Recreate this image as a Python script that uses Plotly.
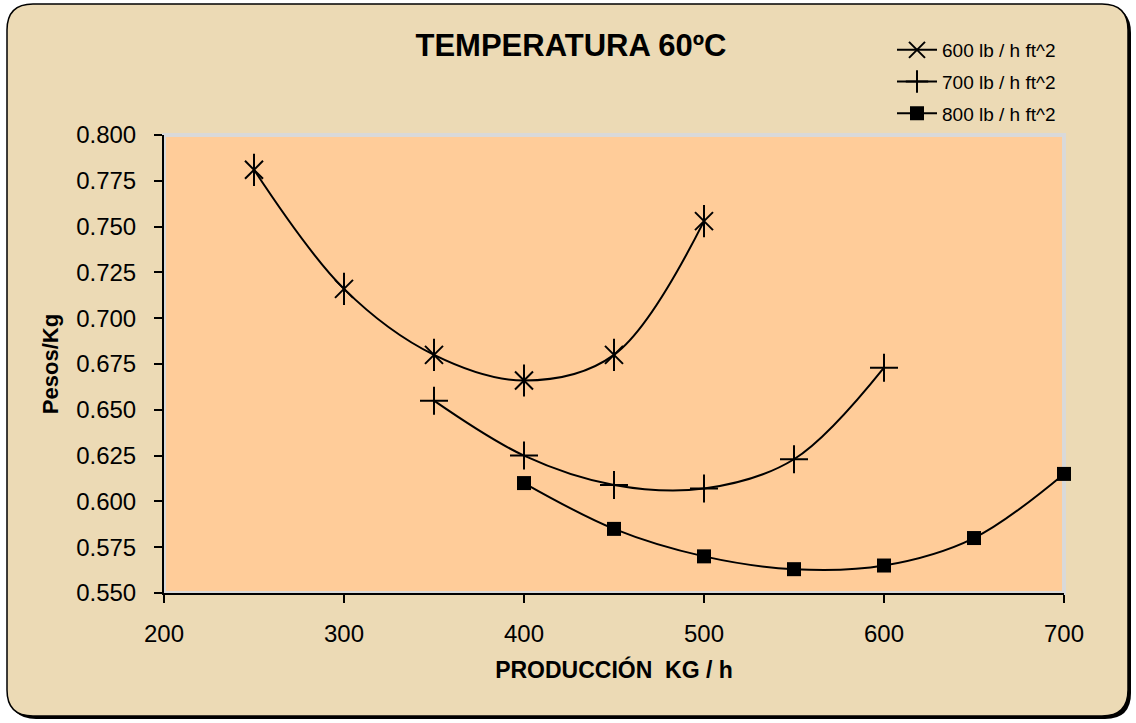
import plotly.graph_objects as go

# ---- data ----
x_600 = [250, 300, 350, 400, 450, 500]
y_600 = [0.781, 0.716, 0.680, 0.666, 0.680, 0.753]
x_700 = [350, 400, 450, 500, 550, 600]
y_700 = [0.655, 0.625, 0.609, 0.607, 0.623, 0.673]
x_800 = [400, 450, 500, 550, 600, 650, 700]
y_800 = [0.610, 0.585, 0.570, 0.563, 0.565, 0.580, 0.615]
series_names = ["600 lb / h ft^2", "700 lb / h ft^2", "800 lb / h ft^2"]
x_ticks = [200, 300, 400, 500, 600, 700]
y_ticks = [0.550, 0.575, 0.600, 0.625, 0.650, 0.675, 0.700, 0.725, 0.750, 0.775, 0.800]

W, H = 1136, 723
ML, MR, MT, MB = 164, 72, 135, 130
PW, PH = W - ML - MR, H - MT - MB

def fx(p):
    return (p - ML) / PW

def fy(p):
    return (H - MB - p) / PH

def rounded_path(L, T, R, B, r):
    return (f"M {fx(L+r)},{fy(T)} L {fx(R-r)},{fy(T)} Q {fx(R)},{fy(T)} {fx(R)},{fy(T+r)} "
            f"L {fx(R)},{fy(B-r)} Q {fx(R)},{fy(B)} {fx(R-r)},{fy(B)} "
            f"L {fx(L+r)},{fy(B)} Q {fx(L)},{fy(B)} {fx(L)},{fy(B-r)} "
            f"L {fx(L)},{fy(T+r)} Q {fx(L)},{fy(T)} {fx(L+r)},{fy(T)} Z")

FONT = "Liberation Sans, Arial, sans-serif"
fig = go.Figure()

line_style = dict(color="black", width=2, shape="spline", smoothing=1.0)

# 600 series: six-armed star (x + vertical bar)
fig.add_trace(go.Scatter(x=x_600, y=y_600, mode="lines+markers", name=series_names[0],
                         legendgroup="g600", line=line_style, cliponaxis=False,
                         marker=dict(symbol="x-thin-open", size=18, color="black",
                                     line=dict(color="black", width=2))))
fig.add_trace(go.Scatter(x=x_600, y=y_600, mode="markers", name=series_names[0],
                         legendgroup="g600", showlegend=False, cliponaxis=False,
                         hoverinfo="skip",
                         marker=dict(symbol="line-ns-open", size=23, color="black",
                                     line=dict(color="black", width=2))))
fig.add_trace(go.Scatter(x=x_700, y=y_700, mode="lines+markers", name=series_names[1],
                         legendgroup="g700", line=line_style, cliponaxis=False,
                         marker=dict(symbol="cross-thin-open", size=20, color="black",
                                     line=dict(color="black", width=2))))
fig.add_trace(go.Scatter(x=x_800, y=y_800, mode="lines+markers", name=series_names[2],
                         legendgroup="g800", line=line_style, cliponaxis=False,
                         marker=dict(symbol="square", size=14, color="black")))

shapes = [
    # frame shadow
    dict(type="path", xref="paper", yref="paper", layer="below",
         path=rounded_path(10, 7, 1131, 719, 26), fillcolor="black", line=dict(width=0)),
    # frame
    dict(type="path", xref="paper", yref="paper", layer="below",
         path=rounded_path(7, 4, 1128, 716, 26), fillcolor="#ECDAB5",
         line=dict(color="black", width=1.5)),
    # plot area
    dict(type="rect", xref="paper", yref="paper", layer="below",
         x0=0, x1=1, y0=0, y1=1, fillcolor="#FFCC99",
         line=dict(color="#D9D9D9", width=4)),
]

fig.update_layout(
    width=W, height=H,
    margin=dict(l=ML, r=MR, t=MT, b=MB),
    paper_bgcolor="white",
    plot_bgcolor="rgba(0,0,0,0)",
    font=dict(family=FONT, color="black"),
    shapes=shapes,
    title=dict(text="<b>TEMPERATURA 60ºC</b>", x=571 / W, xanchor="center",
               y=1 - 45 / H, yanchor="middle", xref="container", yref="container",
               font=dict(size=31, family=FONT, color="black")),
    legend=dict(x=fx(892), xanchor="left", y=fy(31), yanchor="top",
                bgcolor="rgba(0,0,0,0)", font=dict(size=19, family=FONT, color="black"),
                tracegroupgap=4, traceorder="grouped", itemwidth=40),
    xaxis=dict(range=[200, 700], tickvals=x_ticks, ticktext=[str(v) for v in x_ticks],
               showgrid=False, zeroline=False, showline=True, linecolor="black", linewidth=2,
               ticks="outside", ticklen=8, tickwidth=2, tickcolor="black",
               tickfont=dict(size=24, family=FONT), ticklabelstandoff=10,
               title=dict(text="<b>PRODUCCIÓN  KG / h</b>", standoff=16,
                          font=dict(size=23, family=FONT))),
    yaxis=dict(range=[0.55, 0.80], tickvals=y_ticks, ticktext=[f"{v:.3f}" for v in y_ticks],
               showgrid=False, zeroline=False, showline=True, linecolor="black", linewidth=2,
               ticks="outside", ticklen=8, tickwidth=2, tickcolor="black",
               tickfont=dict(size=24, family=FONT), ticklabelstandoff=13,
               title=dict(text="<b>Pesos/Kg</b>", standoff=11,
                          font=dict(size=22, family=FONT))),
)

fig.write_html("out.html")
